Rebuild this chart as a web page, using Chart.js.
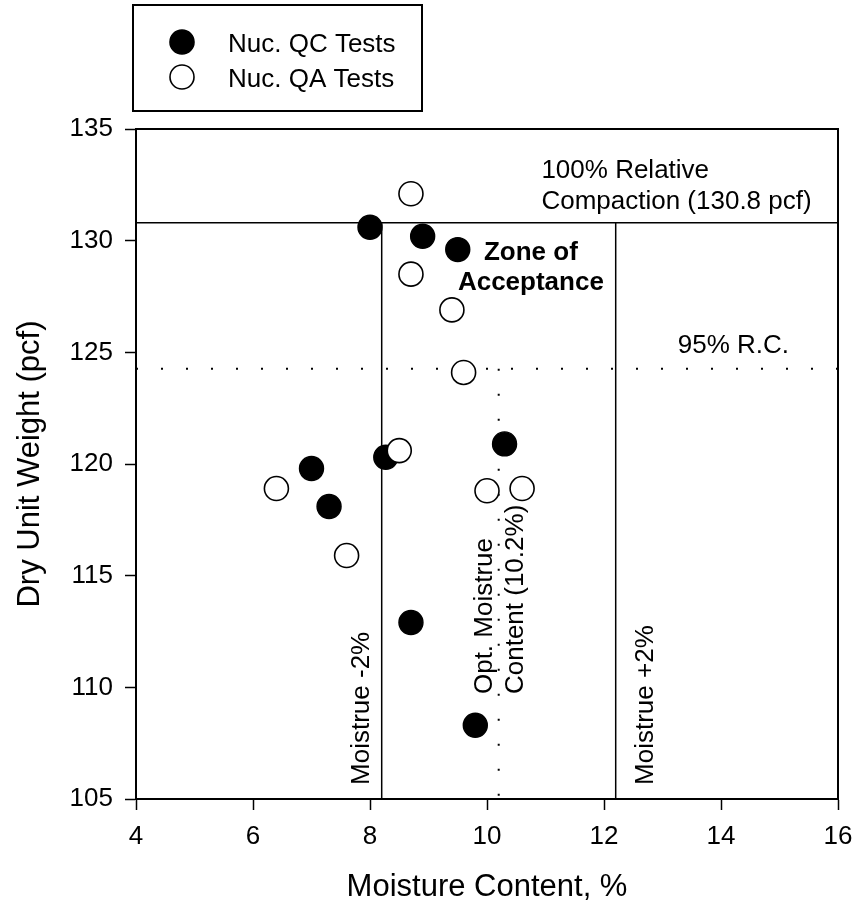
<!DOCTYPE html>
<html><head><meta charset="utf-8">
<script src="https://cdn.jsdelivr.net/npm/chart.js@4.4.0/dist/chart.umd.min.js"></script>
<style>html,body{margin:0;padding:0;background:#fff}canvas{display:block}</style>
</head><body>
<canvas id="c" width="860" height="913"></canvas>
<script>
// ---- data ----
const qcMoisture = [8.0, 8.9, 9.5, 10.3, 8.27, 7.0, 7.3, 8.7, 9.8];
const qcDensity  = [130.6, 130.2, 129.6, 120.9, 120.3, 119.8, 118.1, 112.9, 108.3];
const qaMoisture = [8.7, 8.7, 9.4, 9.6, 8.5, 6.4, 10.0, 10.6, 7.6];
const qaDensity  = [132.1, 128.5, 126.9, 124.1, 120.6, 118.9, 118.8, 118.9, 115.9];
const seriesNames = ['Nuc. QC Tests', 'Nuc. QA Tests'];
const maxDryUnitWeight = 130.8;      // 100% relative compaction
const rc95 = 124.26;                 // 95% R.C.
const optMoisture = 10.2;
const moistureLimits = [8.2, 12.2];  // -2% / +2%
const xRange = [4, 16];
const yRange = [105, 135];
const xStep = 2, yStep = 5;

// ---- styling ----
const FONT = '"Liberation Sans", Arial, Helvetica, sans-serif';
const NOTE_SIZE = 26;

const pts = (xs, ys) => xs.map((x, i) => ({x, y: ys[i]}));
const seg = (x0, y0, x1, y1) => [{x: x0, y: y0}, {x: x1, y: y1}];

const lineDs = (data, dotted) => ({
  type: 'line', data, showLine: true, pointRadius: 0, fill: false,
  borderColor: '#000', borderWidth: dotted ? 2 : 1.5,
  borderDash: dotted ? [2, 23] : [], borderCapStyle: 'butt', order: 5
});

// text notes anchored in data coordinates
const notes = [
  {text: '100% Relative', x: 10.93, y: 132.8, align: 'left'},
  {text: 'Compaction (130.8 pcf)', x: 10.93, y: 131.4, align: 'left'},
  {text: 'Zone of', x: 10.75, y: 129.13, align: 'center', bold: true},
  {text: 'Acceptance', x: 10.75, y: 127.79, align: 'center', bold: true},
  {text: '95% R.C.', x: 13.26, y: 124.96, align: 'left'},
  {text: 'Moistrue -2%', x: 7.98, y: 105.63, rot: true},
  {text: 'Opt. Moistrue', x: 10.085, y: 109.7, rot: true},
  {text: 'Content (10.2%)', x: 10.607, y: 109.7, rot: true},
  {text: 'Moistrue +2%', x: 12.84, y: 105.63, rot: true}
];

const framePlugin = {
  id: 'frame',
  beforeDatasetsDraw(chart) {
    const {ctx, chartArea: a} = chart;
    ctx.save();
    ctx.strokeStyle = '#000'; ctx.lineWidth = 2;
    ctx.beginPath();
    ctx.moveTo(a.left, a.top); ctx.lineTo(a.right, a.top); ctx.lineTo(a.right, a.bottom);
    ctx.stroke();
    ctx.restore();
  },
  afterDraw(chart) {
    const {ctx, scales: {x, y}} = chart;
    ctx.save();
    ctx.fillStyle = '#000';
    notes.forEach(n => {
      const px = x.getPixelForValue(n.x), py = y.getPixelForValue(n.y);
      ctx.font = (n.bold ? 'bold ' : '') + NOTE_SIZE + 'px ' + FONT;
      ctx.textBaseline = 'alphabetic';
      if (n.rot) {
        ctx.save(); ctx.translate(px, py); ctx.rotate(-Math.PI / 2);
        ctx.textAlign = 'left'; ctx.fillText(n.text, 0, 0); ctx.restore();
      } else {
        ctx.textAlign = n.align; ctx.fillText(n.text, px, py);
      }
    });
    // legend
    ctx.lineWidth = 2; ctx.strokeStyle = '#000';
    ctx.strokeRect(133, 5, 289, 106);
    const items = [{fill: '#000', cy: 42, base: 51.7}, {fill: '#fff', cy: 77, base: 86.7}];
    items.forEach((it, i) => {
      ctx.beginPath(); ctx.arc(182, it.cy, 12, 0, Math.PI * 2);
      ctx.fillStyle = it.fill; ctx.fill();
      ctx.lineWidth = 1.6; ctx.strokeStyle = '#000'; ctx.stroke();
      ctx.fillStyle = '#000'; ctx.font = NOTE_SIZE + 'px ' + FONT;
      ctx.textAlign = 'left'; ctx.textBaseline = 'alphabetic';
      ctx.fillText(seriesNames[i], 228, it.base);
    });
    ctx.restore();
  }
};

const tickFont = {family: FONT, size: 26};
const titleFont = {family: FONT, size: 31};

new Chart(document.getElementById('c'), {
  type: 'scatter',
  data: {
    datasets: [
      {label: seriesNames[1], data: pts(qaMoisture, qaDensity), pointRadius: 12, pointBorderWidth: 1.6,
       backgroundColor: '#fff', borderColor: '#000', order: 0},
      {label: seriesNames[0], data: pts(qcMoisture, qcDensity), pointRadius: 12, pointBorderWidth: 1.4,
       backgroundColor: '#000', borderColor: '#000', order: 1},
      lineDs(seg(xRange[0], maxDryUnitWeight, xRange[1], maxDryUnitWeight), false),
      lineDs(seg(moistureLimits[0], yRange[0], moistureLimits[0], maxDryUnitWeight), false),
      lineDs(seg(moistureLimits[1], yRange[0], moistureLimits[1], maxDryUnitWeight), false),
      lineDs(seg(xRange[0], rc95, xRange[1], rc95), true),
      lineDs(seg(optMoisture, rc95, optMoisture, yRange[0]), true)
    ]
  },
  options: {
    responsive: false, animation: false, events: [],
    layout: {padding: {top: 129, right: 22, left: 0, bottom: 0}},
    plugins: {legend: {display: false}, tooltip: {enabled: false}},
    scales: {
      x: {
        type: 'linear', min: xRange[0], max: xRange[1],
        afterFit: s => { s.height = 114; s.paddingLeft = 0; s.paddingRight = 0; },
        ticks: {stepSize: xStep, color: '#000', font: tickFont, padding: 11, autoSkip: false, maxRotation: 0},
        grid: {drawOnChartArea: false, drawTicks: true, tickLength: 11, tickColor: '#000', tickWidth: 1.5},
        border: {display: true, color: '#000', width: 2},
        title: {display: true, text: 'Moisture Content, %', color: '#000', font: titleFont, padding: {top: 0, bottom: 7}}
      },
      y: {
        type: 'linear', min: yRange[0], max: yRange[1],
        afterFit: s => { s.width = 136; s.paddingTop = 0; s.paddingBottom = 0; },
        ticks: {stepSize: yStep, color: '#000', font: tickFont, padding: 12, autoSkip: false},
        grid: {drawOnChartArea: false, drawTicks: true, tickLength: 11, tickColor: '#000', tickWidth: 1.5},
        border: {display: true, color: '#000', width: 2},
        title: {display: true, text: 'Dry Unit Weight (pcf)', color: '#000', font: titleFont, padding: {top: 12, bottom: 0}}
      }
    }
  },
  plugins: [framePlugin]
});
</script>
</body></html>
